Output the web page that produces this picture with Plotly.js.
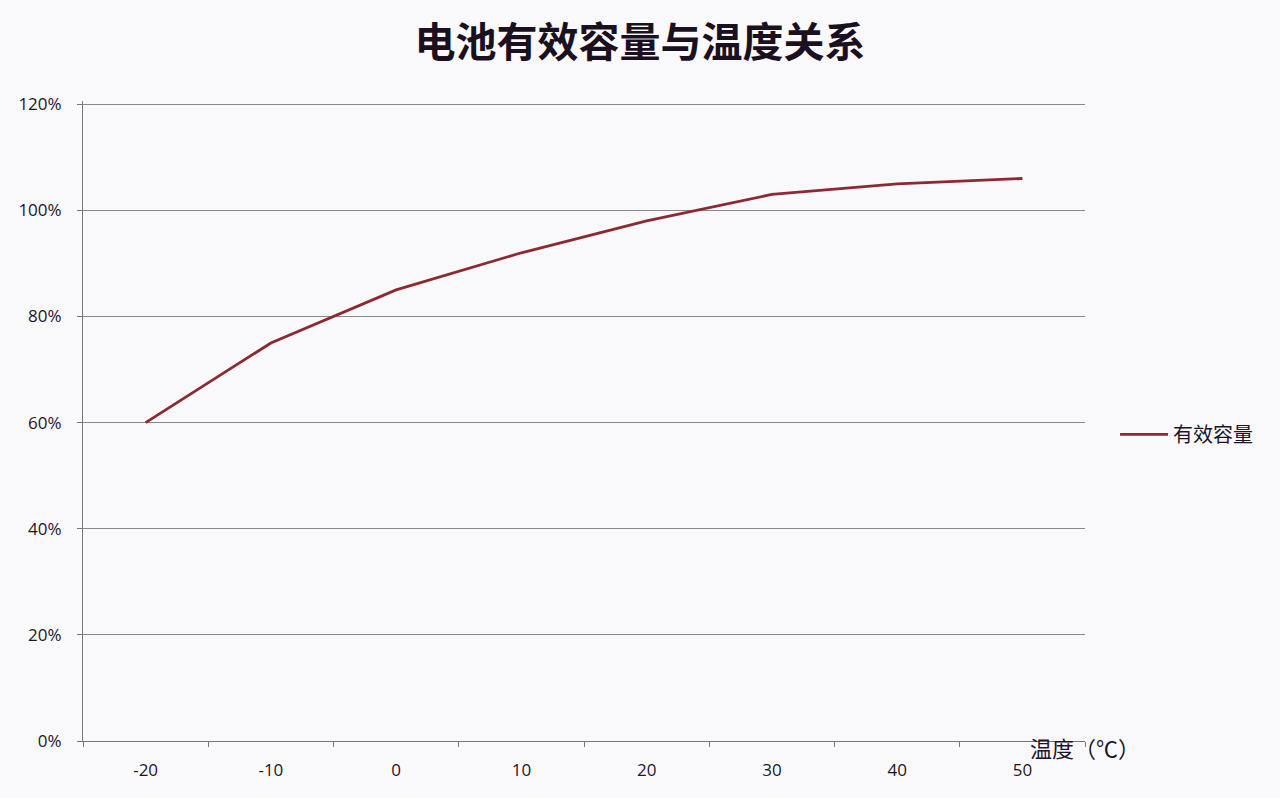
<!DOCTYPE html>
<html>
<head>
<meta charset="utf-8">
<script src="https://cdn.plot.ly/plotly-3.0.1.min.js"></script>
<style>
  html, body { margin: 0; padding: 0; background: #f9f9fc; }
  #chart { width: 1280px; height: 798px; }
</style>
</head>
<body>
<div id="chart"></div>
<script>
// 温度（℃）
var temps = ['-20', '-10', '0', '10', '20', '30', '40', '50'];
// 有效容量 (%)
var capacity = [60, 75, 85, 92, 98, 103, 105, 106];
var yTicks = [0, 20, 40, 60, 80, 100, 120];

var trace = {
  x: temps,
  y: capacity,
  type: 'scatter',
  mode: 'lines',
  name: '有效容量',
  line: { color: '#8c2a32', width: 2.8 }
};

var layout = {
  width: 1280,
  height: 798,
  paper_bgcolor: '#f9f9fc',
  plot_bgcolor: '#f9f9fc',
  margin: { l: 83, r: 195, t: 101, b: 57 },
  title: {
    text: '<b>电池有效容量与温度关系</b>',
    font: { family: 'Noto Sans CJK SC, sans-serif', size: 41, color: '#1a1020' },
    x: 0.5, xanchor: 'center',
    y: 0.947, yanchor: 'middle'
  },
  font: { family: 'Open Sans, Noto Sans, sans-serif', size: 17, color: '#1e1428' },
  xaxis: {
    type: 'category',
    range: [-0.5, 7.5],
    tickson: 'boundaries',
    ticks: 'outside',
    ticklen: 5,
    tickcolor: '#777777',
    showline: true,
    linecolor: '#777777',
    linewidth: 1,
    showgrid: false,
    ticklabelstandoff: 14,
    tickfont: { size: 17, color: '#1e1428' }
  },
  yaxis: {
    range: [0, 120.6],
    tickvals: yTicks,
    ticktext: yTicks.map(function (v) { return v + '%'; }),
    ticks: 'outside',
    ticklen: 5,
    tickcolor: '#777777',
    showline: true,
    linecolor: '#777777',
    linewidth: 1,
    showgrid: true,
    gridcolor: '#8a8a8a',
    gridwidth: 1,
    zeroline: false,
    ticklabelstandoff: 12,
    tickfont: { size: 17, color: '#1e1428' }
  },
  showlegend: true,
  legend: {
    x: 1.03, xanchor: 'left',
    y: 0.479, yanchor: 'middle',
    itemwidth: 48,
    bgcolor: 'rgba(0,0,0,0)',
    font: { family: 'Noto Sans CJK SC, sans-serif', size: 20, color: '#1e1428' }
  },
  annotations: [{
    text: '温度（℃）',
    xref: 'paper', yref: 'paper',
    x: 0.943, xanchor: 'left',
    y: -0.01, yanchor: 'middle',
    showarrow: false,
    font: { family: 'Noto Sans CJK SC, sans-serif', size: 22, color: '#1e1428' }
  }]
};

Plotly.newPlot('chart', [trace], layout, { displayModeBar: false });
</script>
</body>
</html>
